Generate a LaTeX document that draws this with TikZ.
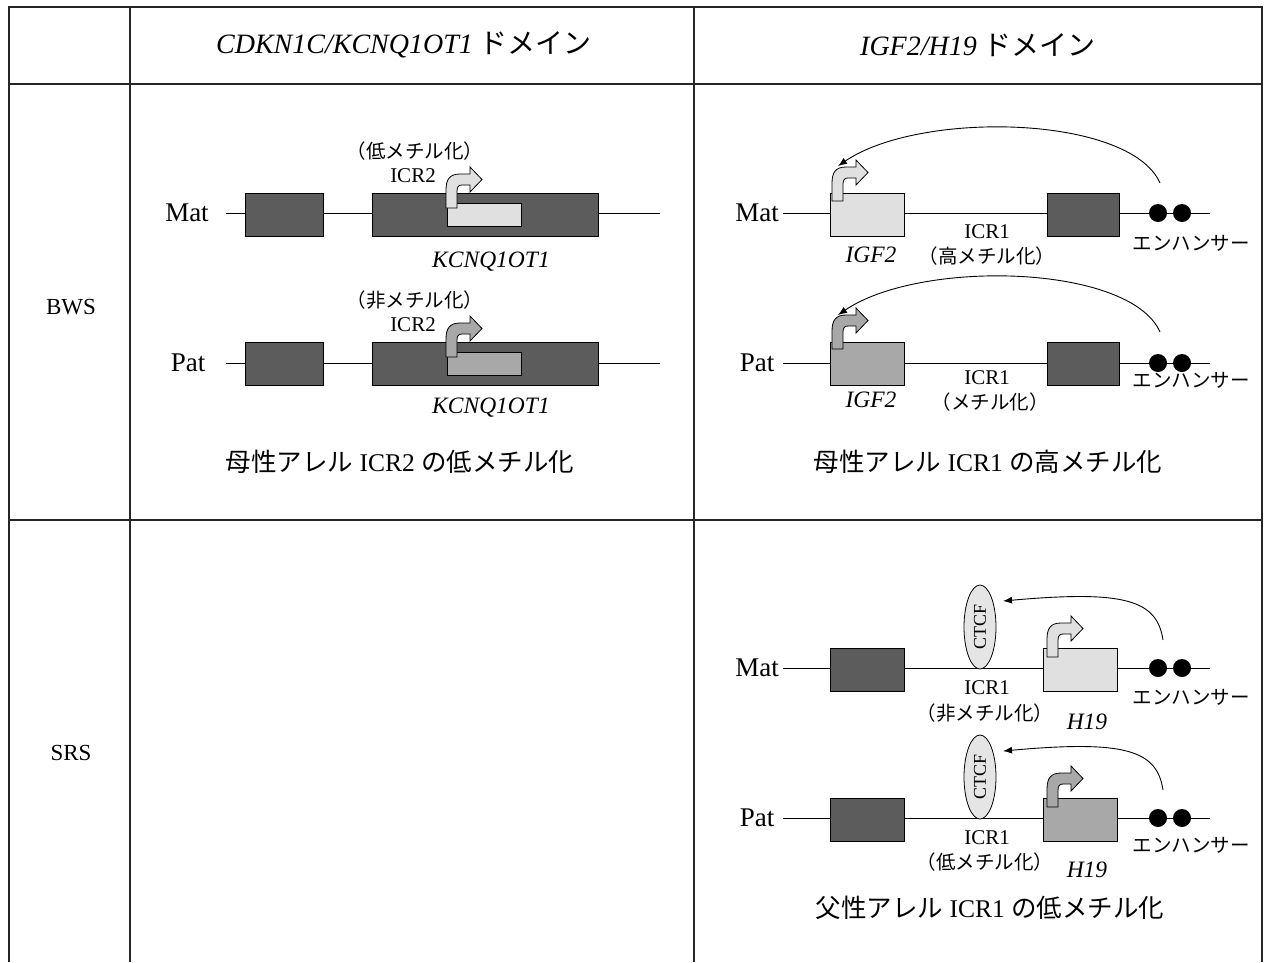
\documentclass[tikz,border=0pt]{standalone}
\usepackage{fontspec}
\setmainfont{Liberation Serif}
\newfontfamily\jp{Noto Sans CJK JP}
\usetikzlibrary{arrows.meta,shapes.geometric}
\definecolor{dk}{gray}{0.36}
\definecolor{lt}{gray}{0.88}
\definecolor{md}{gray}{0.66}
\definecolor{ctcfc}{gray}{0.9}
\newcommand\tssarrow[3]{%
  \begin{scope}[shift={(#1,#2)}]
  \filldraw[fill=#3,draw=black,line width=0.8pt] (0,0) -- (0,-18)
    .. controls (0,-29) and (4,-34) .. (14,-34) -- (24,-34) -- (24,-41)
    -- (36,-28.5) -- (24,-16) -- (24,-23) -- (16,-23)
    .. controls (12.5,-23) and (11,-21) .. (11,-17) -- (11,0) -- cycle;
  \end{scope}}
\tikzset{
  tbl/.style={line width=1.1pt, draw=black!85},
  gline/.style={line width=0.9pt},
  gbox/.style={draw=black, line width=1pt, inner sep=0pt, minimum height=43pt},
  ibox/.style={draw=black, line width=1pt, inner sep=0pt, minimum height=23pt, minimum width=74pt},
  dot/.style={circle, fill=black, inner sep=0pt, minimum size=18pt},
  hdr/.style={font=\fontsize{28}{32}\selectfont, inner sep=0pt},
  rowlab/.style={font=\fontsize{23}{27}\selectfont, inner sep=0pt},
  mp/.style={font=\fontsize{27}{31}\selectfont, inner sep=0pt},
  icr/.style={font=\fontsize{21}{25}\selectfont, inner sep=0pt},
  gene/.style={font=\fontsize{23.5}{27}\selectfont\itshape, inner sep=0pt},
  jl/.style={font=\fontsize{19.5}{23}\selectfont\jp, inner sep=0pt},
  capt/.style={font=\fontsize{25.5}{30}\selectfont, inner sep=0pt},
  ctcf/.style={ellipse, draw=black, line width=0.8pt, fill=ctcfc, rotate=90, minimum width=84pt, minimum height=32pt, inner sep=0pt, font=\fontsize{18}{20}\selectfont},
  curv/.style={line width=0.9pt, -{Latex[length=9pt,width=7pt]}}
}
\begin{document}
\begin{tikzpicture}[x=1pt,y=-1pt]
\useasboundingbox (0,0) rectangle (1265,962);
% table
\draw[tbl] (9,962) -- (9,7) -- (1262,7) -- (1262,962);
\draw[tbl] (9,84) -- (1262,84);
\draw[tbl] (9,520) -- (1262,520);
\draw[tbl] (130,7) -- (130,962);
\draw[tbl] (694,7) -- (694,962);
% headers
\node[hdr] (h1) at (404,45) {{\itshape CDKN1C/KCNQ1OT1} {\jp ドメイン}};
\node[hdr] (h2) at (978,45) {{\itshape IGF2/H19} {\jp ドメイン}};
\node[rowlab] (bws) at (71,307) {BWS};
\node[rowlab] (srs) at (71,753) {SRS};

% ===== left panel, Mat
\node[mp] (lmat) at (187,213) {Mat};
\coordinate (lmatW) at (226,213);
\coordinate (lmatE) at (660,213);
\draw[gline] (lmatW) -- (lmatE);
\node[gbox, fill=dk, minimum width=78pt] (lm1) at (284,214.5) {};
\node[gbox, fill=dk, minimum width=226pt] (lmb) at (485,214.5) {};
\node[ibox, fill=lt] (lmi) at (484,214.5) {};
\tssarrow{446}{208}{lt}
\node[jl] (lmm) at (415,151) {（低メチル化）};
\node[icr] (lmicr) at (413,176) {ICR2};
\node[gene] (lmg) at (491,262) {KCNQ1OT1};
% left panel, Pat
\node[mp] (lpat) at (188,363) {Pat};
\coordinate (lpatW) at (226,363);
\coordinate (lpatE) at (660,363);
\draw[gline] (lpatW) -- (lpatE);
\node[gbox, fill=dk, minimum width=78pt] (lp1) at (284,363.5) {};
\node[gbox, fill=dk, minimum width=226pt] (lpb) at (485,363.5) {};
\node[ibox, fill=md] (lpi) at (484,363.5) {};
\tssarrow{446}{357}{md}
\node[jl] (lpm) at (415,300) {（非メチル化）};
\node[icr] (lpicr) at (413,325) {ICR2};
\node[gene] (lpg) at (491,408) {KCNQ1OT1};
\node[capt] (lcap) at (400,462) {{\jp 母性アレル} ICR2 {\jp の低メチル化}};

% ===== right BWS, Mat
\node[mp] (rmat) at (757,213) {Mat};
\coordinate (rmatW) at (783,213);
\coordinate (rmatE) at (1210,213);
\draw[gline] (rmatW) -- (rmatE);
\node[gbox, fill=lt, minimum width=74pt] (rmi) at (867,214.5) {};
\node[gbox, fill=dk, minimum width=72pt] (rmd) at (1083,214.5) {};
\node[dot] (rme1) at (1158,213) {};
\node[dot] (rme2) at (1182,213) {};
\tssarrow{832}{201}{lt}
\coordinate (rmcs) at (1160,183);
\coordinate (rmce) at (838,166);
\draw[curv] (rmcs) .. controls (1130,115) and (920,110) .. (rmce);
\node[icr] (rmicr) at (987,232) {ICR1};
\node[jl] (rmm) at (987,256) {（高メチル化）};
\node[gene] (rmg) at (871,255) {IGF2};
\node[jl] (rmen) at (1191,243) {エンハンサー};
% right BWS, Pat
\node[mp] (rpat) at (757,363) {Pat};
\coordinate (rpatW) at (783,363);
\coordinate (rpatE) at (1210,363);
\draw[gline] (rpatW) -- (rpatE);
\node[gbox, fill=md, minimum width=74pt] (rpi) at (867,363.5) {};
\node[gbox, fill=dk, minimum width=72pt] (rpd) at (1083,363.5) {};
\node[dot] (rpe1) at (1158,363) {};
\node[dot] (rpe2) at (1182,363) {};
\tssarrow{832}{349}{md}
\coordinate (rpcs) at (1160,332);
\coordinate (rpce) at (838,315);
\draw[curv] (rpcs) .. controls (1130,264) and (920,259) .. (rpce);
\node[icr] (rpicr) at (987,378) {ICR1};
\node[jl] (rpm) at (990,402) {（メチル化）};
\node[gene] (rpg) at (871,400) {IGF2};
\node[jl] (rpen) at (1191,380) {エンハンサー};
\node[capt] (rcap) at (988,462) {{\jp 母性アレル} ICR1 {\jp の高メチル化}};

% ===== right SRS, Mat
\node[mp] (smat) at (757,668) {Mat};
\coordinate (smatW) at (783,668);
\coordinate (smatE) at (1210,668);
\draw[gline] (smatW) -- (smatE);
\node[gbox, fill=dk, minimum width=74pt] (smd) at (867,669.5) {};
\node[ctcf] (smc) at (980,627) {CTCF};
\node[gbox, fill=lt, minimum width=74pt] (smh) at (1080,669.5) {};
\node[dot] (sme1) at (1158,668) {};
\node[dot] (sme2) at (1182,668) {};
\tssarrow{1047}{657}{lt}
\coordinate (smcs) at (1163,640);
\coordinate (smce) at (1003,601);
\draw[curv] (smcs) .. controls (1157,600) and (1125,590) .. (smce);
\node[icr] (smicr) at (987,688) {ICR1};
\node[jl] (smm) at (985,713) {（非メチル化）};
\node[gene] (smg) at (1087,722) {H19};
\node[jl] (smen) at (1191,697) {エンハンサー};
% right SRS, Pat
\node[mp] (spat) at (757,818) {Pat};
\coordinate (spatW) at (783,818);
\coordinate (spatE) at (1210,818);
\draw[gline] (spatW) -- (spatE);
\node[gbox, fill=dk, minimum width=74pt] (spd) at (867,819.5) {};
\node[ctcf] (spc) at (980,777) {CTCF};
\node[gbox, fill=md, minimum width=74pt] (sph) at (1080,819.5) {};
\node[dot] (spe1) at (1158,818) {};
\node[dot] (spe2) at (1182,818) {};
\tssarrow{1047}{807}{md}
\coordinate (spcs) at (1163,790);
\coordinate (spce) at (1003,751);
\draw[curv] (spcs) .. controls (1157,750) and (1125,740) .. (spce);
\node[icr] (spicr) at (987,838) {ICR1};
\node[jl] (spm) at (985,862) {（低メチル化）};
\node[gene] (spg) at (1087,870) {H19};
\node[jl] (spen) at (1191,845) {エンハンサー};
\node[capt] (scap) at (990,908) {{\jp 父性アレル} ICR1 {\jp の低メチル化}};
\end{tikzpicture}
\end{document}
